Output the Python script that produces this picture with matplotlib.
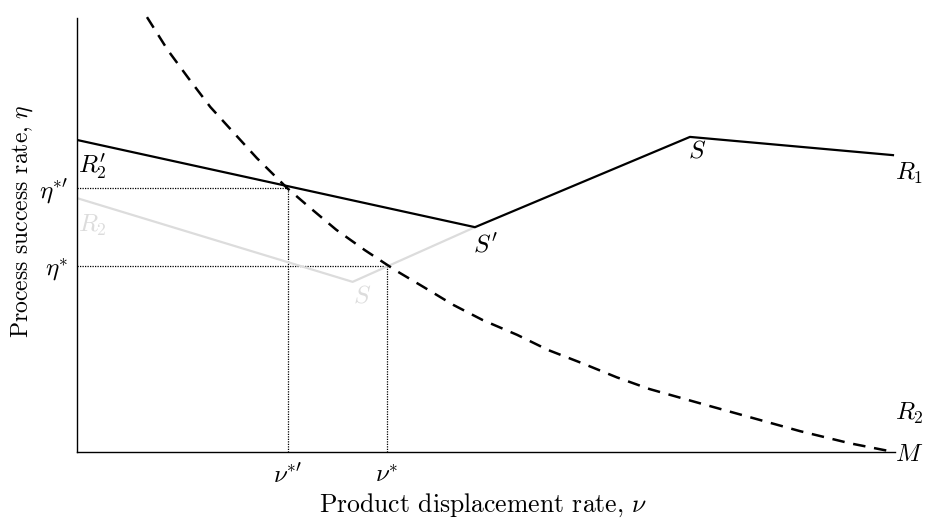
import matplotlib
matplotlib.use("Agg")
import matplotlib.pyplot as plt

plt.rcParams["mathtext.fontset"] = "cm"
plt.rcParams["font.family"] = "DejaVu Serif"
plt.rcParams["axes.formatter.use_mathtext"] = True

# Response curve R1 (black) through S' and S
r1_x = [0.0, 48.66, 74.94, 99.76]
r1_y = [71.9, 51.8, 72.6, 68.4]

# Response curve R2 (grey) through S
r2_x = [0.0, 33.7, 48.66]
r2_y = [58.5, 39.2, 51.8]

# Market curve M
m_x = [8.56, 11.1, 13.6, 16.3, 19.1, 22.0, 25.7, 28.1, 31.7, 35.2, 38.9, 42.3,
       46.0, 49.6, 53.8, 57.6, 61.7, 66.0, 70.0, 76.2, 82.3, 88.4, 94.5, 99.6]
m_y = [100.2, 92.6, 86.2, 79.5, 73.7, 67.7, 60.8, 56.9, 51.2, 46.5, 41.9, 38.1,
       33.9, 30.4, 27.0, 23.5, 20.5, 17.2, 14.5, 11.2, 8.0, 4.8, 2.0, 0.1]

# Equilibria
nu_eq = [25.8, 37.9]
eta_eq = [60.8, 42.9]
nu_labels = [r"$\nu^{*\prime}$", r"$\nu^{*}$"]
eta_labels = [r"$\eta^{*\prime}$", r"$\eta^{*}$"]

fig = plt.figure(figsize=(9.25, 5.2), dpi=100)
ax = fig.add_axes([0.0832, 0.1308, 0.8843, 0.8346])
ax.set_xlim(0, 100)
ax.set_ylim(0, 100)

grey = "#dcdcdc"
ax.plot(r2_x, r2_y, color=grey, lw=1.6, zorder=2)
ax.plot(r1_x, r1_y, color="black", lw=1.6, zorder=3)
ax.plot(m_x, m_y, color="black", lw=1.8, dashes=(5, 3.5), zorder=3, clip_on=False)

for nx, ey in zip(nu_eq, eta_eq):
    ax.plot([0, nx], [ey, ey], color="black", lw=0.9, ls=(0, (1, 1)), zorder=1)
    ax.plot([nx, nx], [0, ey], color="black", lw=0.9, ls=(0, (1, 1)), zorder=1)

ax.set_xticks(nu_eq)
ax.set_xticklabels(nu_labels, fontsize=18)
ax.set_yticks(eta_eq)
ax.set_yticklabels(eta_labels, fontsize=18)
ax.tick_params(axis="x", length=0, pad=9)
ax.tick_params(axis="y", length=0, pad=6)

for s in ["top", "right"]:
    ax.spines[s].set_visible(False)
for s in ["left", "bottom"]:
    ax.spines[s].set_linewidth(1.0)

ax.set_xlabel(r"Product displacement rate, $\nu$", fontsize=18.5, family="cmr10")
ax.set_ylabel(r"Process success rate, $\eta$", fontsize=17, family="cmr10")
ax.xaxis.set_label_coords(0.497, -0.092)
ax.yaxis.set_label_coords(-0.051, 0.532)

fs = 18
ax.text(0.1, 65.7, r"$R_2^{\prime}$", fontsize=fs, ha="left", va="center")
ax.text(0.1, 52.3, r"$R_2$", fontsize=fs, ha="left", va="center", color=grey)
ax.text(34.8, 36.0, r"$S$", fontsize=fs, ha="center", va="center", color=grey)
ax.text(50.0, 47.7, r"$S^{\prime}$", fontsize=fs, ha="center", va="center")
ax.text(75.8, 69.4, r"$S$", fontsize=fs, ha="center", va="center")
ax.text(100.0, 64.3, r"$R_1$", fontsize=fs, ha="left", va="center", clip_on=False)
ax.text(100.0, 9.0, r"$R_2$", fontsize=fs, ha="left", va="center", clip_on=False)
ax.text(100.0, -0.6, r"$M$", fontsize=fs, ha="left", va="center", clip_on=False)

fig.savefig("out.png", dpi=100)
